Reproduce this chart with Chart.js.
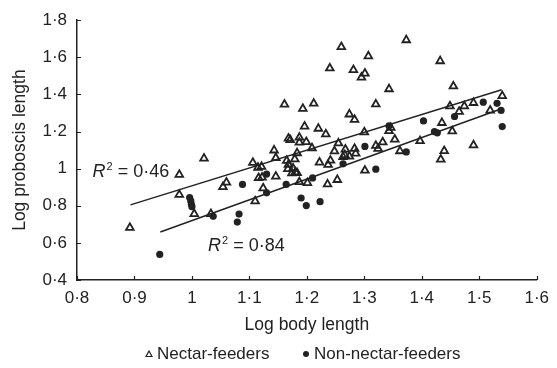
<!DOCTYPE html>
<html lang="en">
<head>
<meta charset="UTF-8">
<title>Proboscis vs body length</title>
<script src="https://cdn.jsdelivr.net/npm/chart.js@4.4.0/dist/chart.umd.min.js"></script>
<style>
  html, body { margin: 0; padding: 0; background: #fff; }
</style>
</head>
<body>
<canvas id="chart" width="557" height="368"></canvas>
<script>
// nectar-feeders (open triangles)
const nectarX = [1.260, 1.307, 1.240, 1.281, 1.301, 1.295, 1.161, 1.193, 1.212, 1.320,
  1.274, 1.283, 1.196, 1.220, 1.233, 1.168, 1.171, 1.187, 1.187, 1.199,
  1.209, 1.300, 1.255, 1.267, 1.283, 1.143, 1.248, 1.320, 1.324, 1.332,
  1.373, 1.432, 1.343, 1.455, 1.449, 1.474, 1.490, 1.540, 1.465, 1.519,
  1.435, 1.346, 1.343, 1.453, 1.353, 1.397, 1.490, 1.362, 1.439, 1.433,
  1.146, 1.106, 1.115, 1.121, 1.165, 1.168, 1.167, 1.179, 1.183, 1.176,
  1.180, 1.183, 1.174, 1.146, 1.116, 1.122, 1.222, 1.237, 1.241, 1.263,
  1.266, 1.274, 1.285, 1.301, 1.054, 1.060, 1.124, 1.187, 1.201, 1.236,
  1.253, 1.110, 0.892, 0.978, 1.021, 0.978, 1.004, 1.033];
const nectarY = [1.656, 1.606, 1.541, 1.532, 1.513, 1.492, 1.346, 1.323, 1.351, 1.347,
  1.293, 1.264, 1.228, 1.216, 1.186, 1.163, 1.155, 1.168, 1.141, 1.144,
  1.111, 1.197, 1.137, 1.104, 1.108, 1.099, 1.094, 1.124, 1.108, 1.143,
  1.693, 1.580, 1.429, 1.444, 1.337, 1.337, 1.355, 1.392, 1.307, 1.314,
  1.247, 1.221, 1.203, 1.202, 1.158, 1.149, 1.127, 1.095, 1.096, 1.050,
  1.058, 1.032, 1.006, 1.011, 1.043, 1.022, 0.999, 1.051, 1.084, 1.002,
  0.981, 0.977, 0.976, 0.958, 0.950, 0.953, 1.034, 1.021, 1.044, 1.064,
  1.074, 1.066, 1.082, 0.990, 0.902, 0.926, 0.895, 0.928, 0.923, 0.916,
  0.940, 0.825, 0.682, 0.968, 1.055, 0.860, 0.756, 0.756];

// non-nectar-feeders (filled circles)
const otherX = [0.944, 0.996, 0.998, 0.999, 1.000, 1.037, 1.082, 1.079, 1.088, 1.130,
  1.130, 1.164, 1.190, 1.199, 1.223, 1.210, 1.263, 1.301, 1.320, 1.343,
  1.373, 1.403, 1.422, 1.427, 1.457, 1.507, 1.531, 1.538, 1.540];
const otherY = [0.538, 0.844, 0.826, 0.808, 0.795, 0.743, 0.755, 0.712, 0.915, 0.870,
  0.971, 0.915, 0.842, 0.801, 0.822, 0.950, 1.026, 1.120, 0.997, 1.231,
  1.090, 1.257, 1.200, 1.193, 1.281, 1.358, 1.352, 1.314, 1.227];

// regression lines
const fitNectarX = [0.893, 1.539];
const fitNectarY = [0.805, 1.425];
const fitOtherX = [0.945, 1.540];
const fitOtherY = [0.659, 1.324];

const xTicks = [0.8, 0.9, 1.0, 1.1, 1.2, 1.3, 1.4, 1.5, 1.6];
const yTicks = [0.4, 0.6, 0.8, 1.0, 1.2, 1.4, 1.6, 1.8];
const r2Values = ['0·46', '0·84'];
const seriesNames = ['Nectar-feeders', 'Non-nectar-feeders'];

const FONT = '"Liberation Sans", Arial, sans-serif';
const INK = '#222';

function pts(xs, ys) {
    return xs.map((x, i) => ({ x: x, y: ys[i] }));
}

function fmt(v) {
    return String(Math.round(v * 10) / 10).replace('.', '·');
}

function drawR2(ctx, x, base, val) {
    ctx.textAlign = 'left';
    ctx.textBaseline = 'alphabetic';
    ctx.font = 'italic 18px ' + FONT;
    ctx.fillText('R', x, base);
    let w = ctx.measureText('R').width + 1;
    ctx.font = '11px ' + FONT;
    ctx.fillText('2', x + w, base - 7);
    w += ctx.measureText('2').width;
    ctx.font = '18px ' + FONT;
    ctx.fillText(' = ' + val, x + w, base);
}

const decor = {
    id: 'decor',
    afterDraw(chart) {
        const { ctx, chartArea: a, scales: { x, y } } = chart;
        ctx.save();
        // inward tick marks
        ctx.strokeStyle = INK;
        ctx.lineWidth = 1.2;
        ctx.beginPath();
        xTicks.forEach(v => {
            const px = Math.round(x.getPixelForValue(v)) + 0.5;
            ctx.moveTo(px, a.bottom);
            ctx.lineTo(px, a.bottom - 4);
        });
        yTicks.forEach(v => {
            const py = Math.round(y.getPixelForValue(v)) + 0.5;
            ctx.moveTo(a.left, py);
            ctx.lineTo(a.left + 4, py);
        });
        ctx.stroke();

        ctx.fillStyle = INK;
        // axis titles
        ctx.font = '17.5px ' + FONT;
        ctx.textAlign = 'center';
        ctx.textBaseline = 'middle';
        ctx.fillText('Log body length', (a.left + a.right) / 2, 325);
        ctx.save();
        ctx.translate(20, (a.top + a.bottom) / 2);
        ctx.rotate(-Math.PI / 2);
        ctx.fillText('Log proboscis length', 0, 0);
        ctx.restore();

        // R² annotations
        drawR2(ctx, x.getPixelForValue(0.827), y.getPixelForValue(0.986) + 6, r2Values[0]);
        drawR2(ctx, x.getPixelForValue(1.028), y.getPixelForValue(0.590) + 6, r2Values[1]);

        // legend
        const ly = 354;
        ctx.font = '17px ' + FONT;
        ctx.textAlign = 'left';
        ctx.textBaseline = 'middle';
        ctx.lineWidth = 1.2;
        ctx.beginPath();
        ctx.moveTo(149, ly - 3);
        ctx.lineTo(152, ly + 2.5);
        ctx.lineTo(146, ly + 2.5);
        ctx.closePath();
        ctx.stroke();
        ctx.fillText(seriesNames[0], 157, ly);
        ctx.beginPath();
        ctx.arc(306, ly, 3, 0, Math.PI * 2);
        ctx.fill();
        ctx.fillText(seriesNames[1], 314, ly);
        ctx.restore();
    }
};

new Chart(document.getElementById('chart').getContext('2d'), {
    type: 'scatter',
    data: {
        datasets: [{
            label: seriesNames[0],
            data: pts(nectarX, nectarY),
            pointStyle: 'triangle',
            pointRadius: 4.4,
            borderWidth: 1.8,
            borderColor: INK,
            backgroundColor: 'rgba(255,255,255,0)'
        }, {
            label: seriesNames[1],
            data: pts(otherX, otherY),
            pointStyle: 'circle',
            pointRadius: 3.6,
            borderWidth: 0,
            backgroundColor: INK
        }, {
            type: 'line',
            label: 'fit1',
            data: pts(fitNectarX, fitNectarY),
            borderColor: INK,
            borderWidth: 1.5,
            pointRadius: 0,
            fill: false
        }, {
            type: 'line',
            label: 'fit2',
            data: pts(fitOtherX, fitOtherY),
            borderColor: INK,
            borderWidth: 1.5,
            pointRadius: 0,
            fill: false
        }]
    },
    options: {
        responsive: false,
        animation: false,
        devicePixelRatio: 1,
        layout: { padding: { top: 15, right: 14, left: 0, bottom: 0 } },
        plugins: { legend: { display: false }, tooltip: { enabled: false } },
        scales: {
            x: {
                type: 'linear',
                min: 0.8,
                max: 1.6,
                afterBuildTicks: s => { s.ticks = xTicks.map(v => ({ value: v })); },
                afterFit: s => { s.height = 88; },
                grid: { display: false, drawTicks: false },
                border: { display: true, color: INK, width: 1.5 },
                ticks: {
                    padding: 8,
                    color: INK,
                    font: { family: FONT, size: 17 },
                    maxRotation: 0,
                    callback: v => fmt(v)
                }
            },
            y: {
                type: 'linear',
                min: 0.4,
                max: 1.8,
                afterBuildTicks: s => { s.ticks = yTicks.map(v => ({ value: v })); },
                afterFit: s => { s.width = 77; },
                grid: { display: false, drawTicks: false },
                border: { display: true, color: INK, width: 1.5 },
                ticks: {
                    padding: 10,
                    color: INK,
                    font: { family: FONT, size: 17 },
                    callback: v => fmt(v)
                }
            }
        }
    },
    plugins: [decor]
});
</script>
</body>
</html>
